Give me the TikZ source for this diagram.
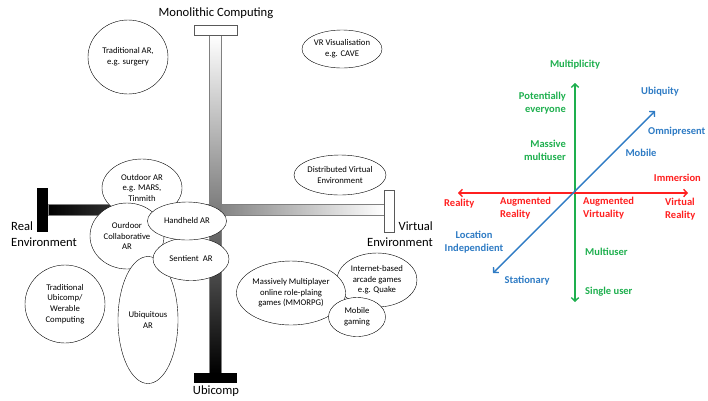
\documentclass[tikz,border=0pt]{standalone}
\usepackage{fontspec}
\setmainfont{Carlito}
\usetikzlibrary{shapes,arrows.meta,positioning,calc}
\tikzset{
	bubble/.style={ellipse,draw=black,fill=white,inner sep=0pt,align=center,font=\fontsize{8.7}{10.7}\selectfont},
	axislabel/.style={font=\fontsize{12.6}{15.5}\selectfont,inner sep=0pt},
	dimlabel/.style={font=\bfseries\fontsize{10.5}{12.8}\selectfont,inner sep=0pt},
	axis/.style={{Straight Barb[length=3.5pt,width=7.5pt]}-{Straight Barb[length=3.5pt,width=7.5pt]},line width=1.4pt}
}
\definecolor{DimRed}{HTML}{FF1F1F}
\definecolor{DimGreen}{HTML}{1EAF4E}
\definecolor{DimBlue}{HTML}{2E7BC4}

\begin{document}
\begin{tikzpicture}[x=1pt,y=-1pt]
		\useasboundingbox (0,0) rectangle (708,400);
		% the two computing axes
		\shade[left color=black,right color=white,draw=gray] (48,204) rectangle (384,215);
		\fill[black] (37,188) rectangle (48,232);
		\draw[draw=gray!70!black,fill=white] (384,190) rectangle (394,232);
		\shade[top color=white,bottom color=black,draw=gray] (209,35) rectangle (221,373);
		\draw[draw=gray!70!black,fill=white] (194,25) rectangle (237,35);
		\fill[black] (194,373) rectangle (237,383);
		\node[axislabel] (mono) at (216,13) {Monolithic Computing};
		\node[axislabel] (ubi) at (216,391) {Ubicomp};
		\node[axislabel,align=left,anchor=west] (real) at (11,234) {Real\\Environment};
		\node[axislabel,align=right,anchor=east] (virt) at (433,234) {Virtual\\Environment};
		% applications
		\node[bubble,minimum width=80pt,minimum height=74pt] (tradAR) at (128,57) {Traditional AR,\\e.g. surgery};
		\node[bubble,minimum width=80pt,minimum height=38pt] (cave) at (342,49) {VR Visualisation\\e.g. CAVE};
		\node[bubble,minimum width=88pt,minimum height=40pt] (dve) at (340,175) {Distributed Virtual\\Environment};
		\node[bubble,minimum width=80pt,minimum height=58pt] (outdoor) at (142,188) {Outdoor AR\\e.g. MARS,\\Tinmith};
		\node[bubble,minimum width=74pt,minimum height=66pt] (collab) at (127,236) {Ourdoor\\Collaborative\\AR};
		\node[bubble,minimum width=60pt,minimum height=127pt] (ubiAR) at (148,320) {Ubiquitous\\AR};
		\node[bubble,minimum width=76pt,minimum height=43pt] (sentient) at (191,259) {Sentient~ AR};
		\node[bubble,minimum width=79pt,minimum height=38pt] (handheld) at (187,221) {Handheld AR};
		\node[bubble,minimum width=80pt,minimum height=78pt] (tradUbi) at (65,304) {Traditional\\Ubicomp/\\Werable\\Computing};
		\node[bubble,minimum width=80pt,minimum height=54pt] (quake) at (377,280) {Internet-based\\arcade games\\e.g. Quake};
		\node[bubble,minimum width=102pt,minimum height=64pt] (mmorpg) at (291,293) {Massively Multiplayer\\online role-plaing\\games (MMORPG)};
		\node[bubble,minimum width=57pt,minimum height=39pt] (mobgame) at (357,317) {Mobile\\gaming};
		% dimensions
		\coordinate (O) at (575,193);
		\coordinate (xl) at (458,193);
		\coordinate (xr) at (688,193);
		\coordinate (yt) at (575,83);
		\coordinate (yb) at (575,302);
		\coordinate (dt) at (655,111);
		\coordinate (db) at (493,273);
		\draw[axis,DimGreen] (yb) -- (yt);
		\draw[axis,DimRed] (xl) -- (xr);
		\draw[axis,DimBlue] (db) -- (dt);
		\node[dimlabel,DimGreen] (multi) at (575,65) {Multiplicity};
		\node[dimlabel,DimGreen,align=right,anchor=east] (everyone) at (566,103) {Potentially\\everyone};
		\node[dimlabel,DimGreen,align=right,anchor=east] (massive) at (566,150) {Massive\\multiuser};
		\node[dimlabel,DimGreen,anchor=west] (multiuser) at (585,252) {Multiuser};
		\node[dimlabel,DimGreen,anchor=west] (single) at (585,292) {Single user};
		\node[dimlabel,DimBlue] (ubiq) at (660,92) {Ubiquity};
		\node[dimlabel,DimBlue,anchor=west] (omni) at (648,132) {Omnipresent};
		\node[dimlabel,DimBlue] (mobile) at (641,153) {Mobile};
		\node[dimlabel,DimBlue,align=center] (locind) at (474,242) {Location\\Independient};
		\node[dimlabel,DimBlue] (station) at (527,281) {Stationary};
		\node[dimlabel,DimRed,anchor=east] (immer) at (701,178) {Immersion};
		\node[dimlabel,DimRed,anchor=west] (reality) at (444,204) {Reality};
		\node[dimlabel,DimRed,align=left,anchor=west] (augreal) at (500,208) {Augmented\\Reality};
		\node[dimlabel,DimRed,align=left,anchor=west] (augvirt) at (583,208) {Augmented\\Virtuality};
		\node[dimlabel,DimRed,align=left,anchor=west] (vr) at (665,209) {Virtual\\Reality};
\end{tikzpicture}
\end{document}
